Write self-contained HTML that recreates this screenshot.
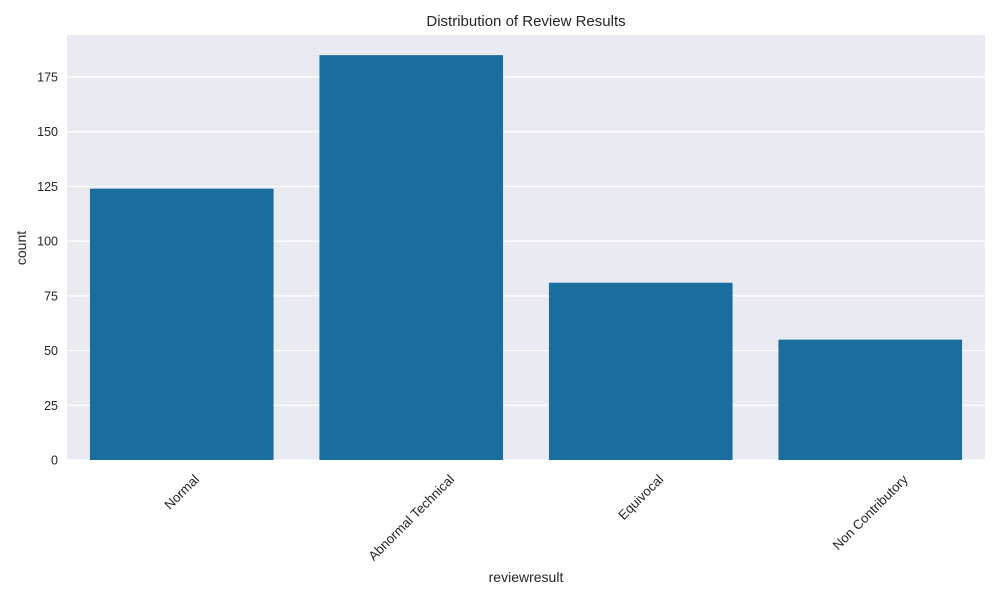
<!DOCTYPE html>
<html><head><meta charset="utf-8"><style>
body{margin:0;background:#fff;font-family:"Liberation Sans",sans-serif;}
</style></head><body>
<svg width="1000" height="600" xmlns="http://www.w3.org/2000/svg" font-family="Liberation Sans, sans-serif">
<rect x="67" y="35" width="918" height="425" fill="#eaeaf2"/>
<g id="grid"></g><g id="bars"></g><g id="yt"></g><g id="xt"></g>
<text x="526" y="26" text-anchor="middle" font-size="15" fill="#262626">Distribution of Review Results</text>
<text x="526" y="582" text-anchor="middle" font-size="14" fill="#262626">reviewresult</text>
<text transform="translate(26,248) rotate(-90)" text-anchor="middle" font-size="14" fill="#262626">count</text>
</svg>
<script>
const categories=["Normal","Abnormal Technical","Equivocal","Non Contributory"];
const counts=[124,185,81,55];
const yTicks=[0,25,50,75,100,125,150,175];
const NS="http://www.w3.org/2000/svg";
const x0=67,x1=985,yb=460,yTop=35,yMax=194.2;
const y=v=>yb-(v/yMax)*(yb-yTop);
const bw=(x1-x0)/categories.length;
const bx=i=>x0+bw*i;
function mk(t,a,p){const e=document.createElementNS(NS,t);for(const k in a)e.setAttribute(k,a[k]);p.appendChild(e);return e;}
const G=document.getElementById('grid'),B=document.getElementById('bars'),YT=document.getElementById('yt'),XT=document.getElementById('xt');
yTicks.forEach(v=>{
 const l=mk('line',{x1:x0,x2:x1,y1:y(v),y2:y(v),stroke:'#fff','stroke-width':1.2},G);
 
 
 const t=mk('text',{x:58,y:y(v)+4.5,'text-anchor':'end','font-size':12.5,fill:'#262626'},YT);
 t.textContent=v;
 
 
});
categories.forEach((c,i)=>{
 const w=bw*0.8,xs=bx(i)+bw*0.1;
 const r=mk('rect',{x:xs,y:y(counts[i]),width:w,height:yb-y(counts[i]),fill:'#1a6e9e'},B);
 
 
 const cx=bx(i)+bw/2;
 const t=mk('text',{x:0,y:4.5,'text-anchor':'middle','font-size':13.2,fill:'#262626'},XT);
 t.textContent=c;
 
 
 const L=t.getComputedTextLength();
 const cy=472+L*0.7071/2+5;
 t.setAttribute('transform',`translate(${cx},${cy}) rotate(-45)`);
});
</script>
</body></html>
